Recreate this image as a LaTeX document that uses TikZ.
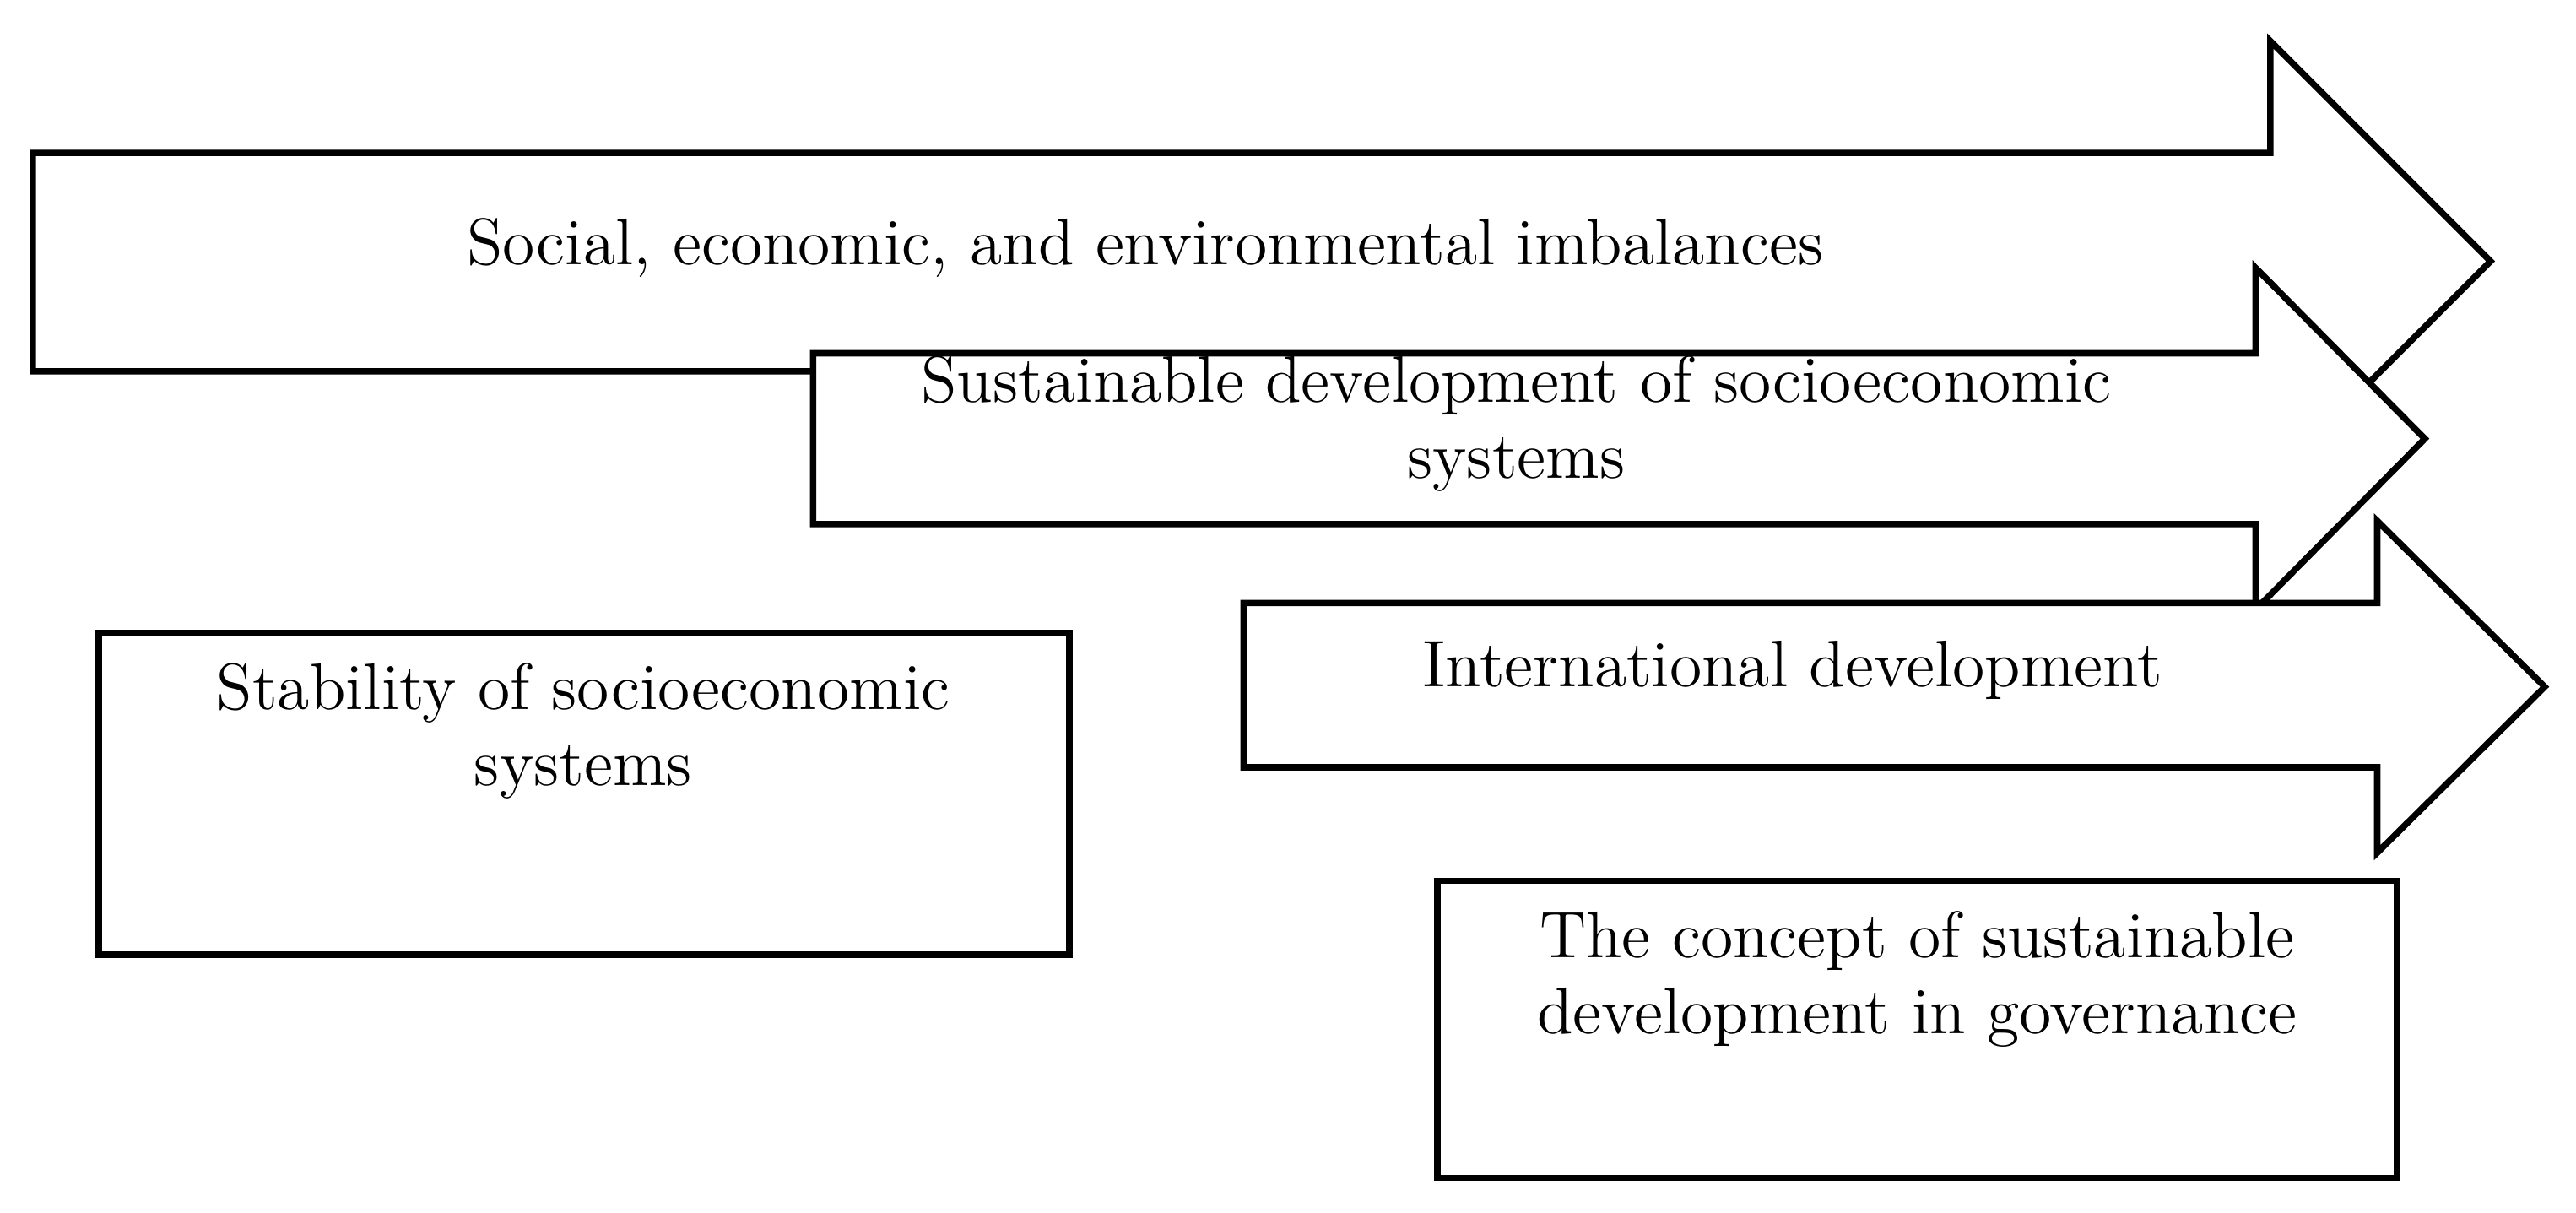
\documentclass[tikz,border=0pt]{standalone}
\begin{document}
\begin{tikzpicture}[x=0.01cm,y=-0.01cm,line width=1.1pt,line join=miter,
        arrowshape/.style={draw,fill=white},
        label/.style={align=center,inner sep=0pt,font=\fontsize{11.4}{13.1}\selectfont}]
        \useasboundingbox (0,0) rectangle (1568,738);
        % Arrows, back to front
        \draw[arrowshape] (20,93) -- (1382,93) -- (1382,25) -- (1516,159) -- (1382,293) -- (1382,226) -- (20,226) -- cycle;
        \draw[arrowshape] (495,215) -- (1373,215) -- (1373,163) -- (1476,267) -- (1373,371) -- (1373,319) -- (495,319) -- cycle;
        \draw[arrowshape] (757,367) -- (1447,367) -- (1447,317) -- (1549,418) -- (1447,519) -- (1447,467) -- (757,467) -- cycle;
        % Boxes
        \draw (60,385) rectangle (651,581);
        \draw (875,536) rectangle (1459,717);
        % Labels
        \node[label] (imbal) at (697,151) {Social, economic, and environmental imbalances};
        \node[label] (sdses) at (923,258) {Sustainable development of socioeconomic\\systems};
        \node[label] (intl) at (1091,408) {International development};
        \node[label] (stab) at (355,445) {Stability of socioeconomic\\systems};
        \node[label] (gov) at (1167,596) {The concept of sustainable\\development in governance};
    \end{tikzpicture}
\end{document}
